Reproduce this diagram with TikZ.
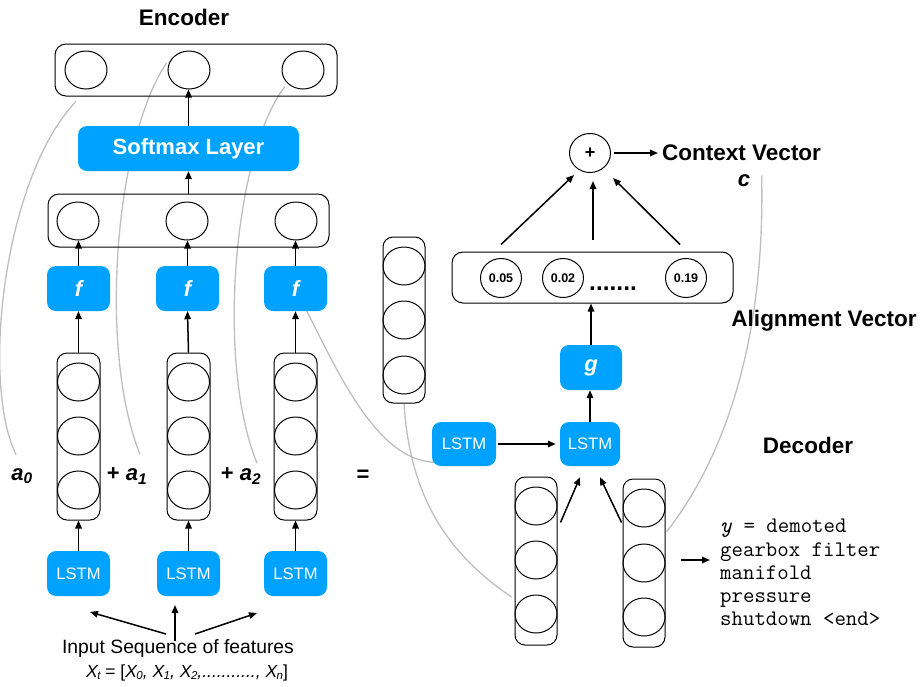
\documentclass[tikz,border=0pt]{standalone}
\usepackage{fontspec}
\setmainfont{Liberation Sans}
\usetikzlibrary{arrows.meta,shapes.geometric,calc,backgrounds}
\definecolor{kblue}{RGB}{0,162,255}
\definecolor{kgray}{RGB}{190,190,190}
\newcommand{\sbx}[1]{\kern-0.5pt{\fontsize{11.5}{12}\selectfont\raisebox{-1.5pt}{#1}}}
\begin{document}
\begin{tikzpicture}[x=1pt,y=-1pt,
  box/.style={draw,rounded corners=11pt,line width=1pt,inner sep=0},
  colbox/.style={draw,rounded corners=10pt,line width=1pt,inner sep=0,minimum width=43pt,minimum height=167pt},
  cell/.style={draw,ellipse,minimum width=42pt,minimum height=38pt,inner sep=0,line width=1pt},
  bluebox/.style={fill=kblue,rounded corners=9pt,text=white,inner sep=0,minimum width=63pt,minimum height=45pt},
  lstm/.style={bluebox,font=\fontsize{16.6}{20}\selectfont},
  fbox/.style={bluebox,font=\fontsize{22}{26}\selectfont\bfseries\itshape},
  arr/.style={-{Triangle[length=8pt,width=6.5pt]},line width=1.5pt},
  gcurve/.style={draw=kgray,line width=1.3pt},
  head/.style={font=\fontsize{22.5}{27}\selectfont\bfseries},
  lab/.style={font=\fontsize{22}{26}\selectfont\bfseries},
  num/.style={font=\fontsize{12.5}{15}\selectfont\bfseries},
  plain/.style={font=\fontsize{19.3}{23}\selectfont},
]
\useasboundingbox (0,0) rectangle (923,686);

% ---------- Encoder ----------
\node[head] (enc) at (184,17) {Encoder};
\node[box,minimum width=282pt,minimum height=52pt] (tb) at (196,70) {};
\node[cell] (e1) at (86,70) {};
\node[cell] (e2) at (189,70) {};
\node[cell] (e3) at (303,70) {};

\node[bluebox,minimum width=221pt,font=\fontsize{22}{26}\selectfont\bfseries] (sm) at (188.5,148.5) {Softmax Layer};

\node[box,minimum width=281pt,minimum height=53pt] (mb) at (188.5,220.5) {};
\node[cell] (h1) at (78,221) {};
\node[cell] (h2) at (187,221) {};
\node[cell] (h3) at (296,221) {};

\node[fbox] (f1) at (78.5,288.5) {f};
\node[fbox] (f2) at (187.5,288.5) {f};
\node[fbox] (f3) at (295.5,288.5) {f};

\foreach \i/\x in {1/78.5,2/188.5,3/295.5}{
  \node[colbox] (col\i) at (\x,436.5) {};
  \node[cell] (col\i a) at (\x,382) {};
  \node[cell] (col\i b) at (\x,436) {};
  \node[cell] (col\i c) at (\x,490) {};
}

\node[lstm] (L1) at (78.5,573.5) {LSTM};
\node[lstm] (L2) at (188.5,573.5) {LSTM};
\node[lstm] (L3) at (295.5,573.5) {LSTM};

\draw[arr] (sm.north) -- (sm.north |- e2.south);
\draw[arr] (sm.south |- mb.north) -- (sm.south);
\foreach \i in {1,2,3}{
  \draw[arr] (f\i.north) -- (f\i.north |- h\i.south);
  \draw[arr] (col\i.north) -- (f\i.south);
  \draw[arr] (L\i.north) -- (col\i.south);
}

\node[lab] (a0) at (22,476) {\itshape a\textsubscript{0}};
\node[lab] (a1) at (127,476) {+ \itshape a\textsubscript{1}};
\node[lab] (a2) at (241,476) {+ \itshape a\textsubscript{2}};
\node[lab] (eq) at (363,476) {=};

\node[plain] (inp) at (178,649) {Input Sequence of features};
\node[font=\fontsize{17.5}{21}\selectfont] (xt) at (187,673) {\textit{X\sbx{t}} = [\textit{X\sbx{0}, X\sbx{1}, X\sbx{2},..........., X\sbx{n}}]};
\coordinate (is1) at (166,634);
\coordinate (is2) at (175,641);
\coordinate (is3) at (195,634);
\coordinate (ie1) at (90,612);
\coordinate (ie2) at (175,605);
\coordinate (ie3) at (257,613);
\draw[arr] (is1) -- (ie1);
\draw[arr] (is2) -- (ie2);
\draw[arr] (is3) -- (ie3);

% ---------- Attention / Decoder ----------
\node[cell,minimum width=41pt,minimum height=39pt,font=\fontsize{18}{20}\selectfont\bfseries] (plus) at (590,153) {+};
\node[head,anchor=west,inner sep=4pt] (cv) at (658,153) {Context Vector};
\node[lab] (cc) at (744,181) {\itshape c};
\draw[arr] ([xshift=3pt]plus.east) -- (cv.west);

\node[box,minimum width=281pt,minimum height=51pt] (ab) at (592.5,277.5) {};
\node[cell,minimum width=41pt,minimum height=39pt,num] (p1) at (501,278) {0.05};
\node[cell,minimum width=41pt,minimum height=39pt,num] (p2) at (563,278) {0.02};
\node[cell,minimum width=41pt,minimum height=39pt,num] (p3) at (686,278) {0.19};
\node[font=\fontsize{24.5}{27}\selectfont\bfseries,anchor=base west,inner sep=0] (dots) at (589,290) {.......};

\draw[arr] ($(p1.north |- ab.north)+(0,7pt)$) -- ($(plus.center)+(-16pt,-22pt)$);
\draw[arr] ($(plus.south |- ab.north)+(3pt,12pt)$) -- ($(plus.south)+(3pt,-8pt)$);
\draw[arr] ($(p3.north |- ab.north)+(-6pt,7pt)$) -- ($(plus.center)+(23pt,-25pt)$);

\node[head] (av) at (824,321) {Alignment Vector};

\node[fbox,minimum width=62pt] (g) at (591,367.5) {g};
\draw[arr] (g.north) -- (g.north |- ab.south);

\node[colbox,minimum width=42pt,minimum height=166pt] (dc) at (404,320) {};
\node[cell] (dca) at (404,266) {};
\node[cell] (dcb) at (404,320) {};
\node[cell] (dcc) at (404,375) {};

\node[lstm,minimum width=64pt,minimum height=44pt] (dl) at (464,444) {LSTM};
\node[lstm,minimum width=60pt,minimum height=44pt] (dr) at (590,444) {LSTM};
\draw[arr,shorten <=2pt,shorten >=4pt] (dl.east) -- (dr.west);
\draw[arr] (dr.north) -- (dr.north |- g.south);

\node[colbox,minimum width=42pt,minimum height=168pt] (bl) at (536,561) {};
\node[cell] (bla) at (536,506) {};
\node[cell] (blb) at (536,560) {};
\node[cell] (blc) at (536,614) {};
\node[colbox,minimum width=42pt,minimum height=168pt] (br) at (644,563) {};
\node[cell] (bra) at (644,508) {};
\node[cell] (brb) at (644,563) {};
\node[cell] (brc) at (644,617) {};

\draw[arr] ($(bl.north east)+(3pt,-46pt)$) -- ($(dr.south)+(-10pt,-11pt)$);
\draw[arr] ($(br.north west)+(-1pt,-44pt)$) -- ($(dr.south)+(10pt,-11pt)$);

\node[head] (dec) at (808,445) {Decoder};

\node[anchor=north west,align=left,inner sep=0,font=\fontsize{22.2}{23.3}\selectfont\ttfamily] (ytxt) at (720,519) {\textit{y} = demoted\\gearbox filter\\manifold\\pressure\\shutdown <end>};
\coordinate (yend) at (710,560);
\draw[arr] ($(br.east)+(15pt,3pt)$) -- (yend);

% ---------- gray weight curves ----------
\begin{scope}[on background layer]
\draw[gcurve] ($(e1.south)+(-10pt,-12pt)$) .. controls (5,175) and (-20,380) .. ($(a0.north)+(-6pt,10pt)$);
\draw[gcurve] ($(e2.west)+(-1pt,7pt)$) .. controls (115,140) and (98,350) .. ($(a1.north)+(13pt,10pt)$);
\draw[gcurve] ($(e3.south)+(-18pt,3pt)$) .. controls (235,150) and (215,360) .. ($(a2.north)+(16pt,1pt)$);
\draw[gcurve] ($(f3.south east)+(-21pt,1pt)$) .. controls (335,365) and (375,460) .. ($(dl.south west)+(2pt,4pt)$);
\draw[gcurve] (dc.south) .. controls (410,500) and (450,555) .. ($(bl.west)+(-3pt,-36pt)$);
\draw[gcurve] ($(cc.north east)+(8pt,-4pt)$) .. controls (765,330) and (730,450) .. ($(br.east)+(1pt,31pt)$);
\end{scope}
\end{tikzpicture}
\end{document}
